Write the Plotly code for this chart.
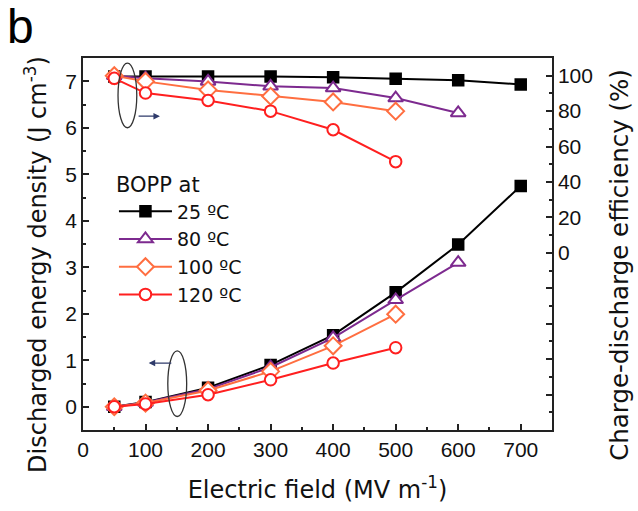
import plotly.graph_objects as go

# ---- data ----
field = [50, 100, 200, 300, 400, 500, 600, 700]
labels = ["25 ºC", "80 ºC", "100 ºC", "120 ºC"]
colors = ["#000000", "#7d2a8f", "#ff6e40", "#ff1f1f"]
symbols = ["square", "triangle-up", "diamond", "circle"]
fills = ["#000000", "white", "white", "white"]
sizes = [10.5, 13, 13, 11.5]

energy_25 = [0.0, 0.10, 0.41, 0.90, 1.54, 2.46, 3.49, 4.75]
energy_80 = [0.0, 0.09, 0.38, 0.85, 1.48, 2.30, 3.10]
energy_100 = [0.0, 0.08, 0.35, 0.76, 1.31, 1.99]
energy_120 = [0.0, 0.06, 0.26, 0.58, 0.94, 1.27]

eff_25 = [99.5, 99.6, 99.6, 99.6, 99.2, 98.3, 97.4, 95.1]
eff_80 = [100.0, 98.6, 96.8, 94.0, 93.0, 87.4, 79.0]
eff_100 = [100.0, 96.8, 92.0, 88.4, 85.2, 80.0]
eff_120 = [98.5, 90.2, 86.0, 80.0, 69.5, 51.5]

energy = [energy_25, energy_80, energy_100, energy_120]
eff = [eff_25, eff_80, eff_100, eff_120]

FONT = "Liberation Sans, Arial, sans-serif"
WIDE = "DejaVu Sans, sans-serif"

fig = go.Figure()
for i in range(4):
    fig.add_trace(go.Scatter(
        x=field[:len(eff[i])], y=eff[i], yaxis="y2", mode="lines+markers",
        line=dict(color=colors[i], width=2),
        marker=dict(symbol=symbols[i], size=sizes[i], color=fills[i],
                    line=dict(color=colors[i], width=2)),
        showlegend=False))
for i in range(4):
    fig.add_trace(go.Scatter(
        x=field[:len(energy[i])], y=energy[i], mode="lines+markers", name=labels[i],
        legendgroup=labels[i],
        line=dict(color=colors[i], width=2),
        marker=dict(symbol=symbols[i], size=sizes[i], color=fills[i],
                    line=dict(color=colors[i], width=2))))

# ellipses and arrows
fig.add_shape(type="circle", xref="x", yref="y", x0=56, x1=86, y0=6.0, y1=7.39,
              line=dict(color="#333333", width=1.3))
fig.add_shape(type="circle", xref="x", yref="y", x0=135.6, x1=165.8, y0=-0.21, y1=1.2,
              line=dict(color="#333333", width=1.3))
fig.add_annotation(x=123, y=6.25, ax=86.5, ay=6.25, xref="x", yref="y", axref="x", ayref="y",
                   showarrow=True, arrowhead=2, arrowsize=1, arrowwidth=1.3,
                   arrowcolor="#2f3b6b", text="")
fig.add_annotation(x=105, y=0.94, ax=143.6, ay=0.94, xref="x", yref="y", axref="x", ayref="y",
                   showarrow=True, arrowhead=2, arrowsize=1, arrowwidth=1.3,
                   arrowcolor="#2f3b6b", text="")

# panel letter
fig.add_annotation(text="b", xref="paper", yref="paper", x=-0.166, y=1.161,
                   xanchor="left", yanchor="top", showarrow=False,
                   font=dict(size=48, family=FONT, color="black"))

# y-axis titles (placed slightly below the axis centre, as in the reference)
fig.add_annotation(text="Discharged energy density (J cm<sup>-3</sup>)", xref="paper", yref="paper",
                   x=-0.100, y=0.444, xanchor="center", yanchor="middle", textangle=-90,
                   showarrow=False, font=dict(size=24, family=WIDE, color="#111111"))
fig.add_annotation(text="Charge-discharge efficiency (%)", xref="paper", yref="paper",
                   x=1.145, y=0.444, xanchor="center", yanchor="middle", textangle=-90,
                   showarrow=False, font=dict(size=24.5, family=WIDE, color="#111111"))

axis_common = dict(showline=True, linecolor="#222222", linewidth=1.5, ticks="inside",
                   ticklen=6, tickwidth=1.5, tickcolor="#222222", showgrid=False,
                   zeroline=False, tickfont=dict(size=21, family=FONT, color="#111111"))
minor_common = dict(ticks="inside", ticklen=3.5, tickwidth=1.5, tickcolor="#222222")

fig.update_layout(
    width=638, height=511,
    margin=dict(l=83, r=86, t=58, b=79),
    paper_bgcolor="white", plot_bgcolor="white",
    font=dict(family=FONT, color="#111111"),
    xaxis=dict(range=[0, 750], dtick=100, mirror=True,
               minor=dict(dtick=50, **minor_common),
               title=dict(text="Electric field (MV m<sup>-1</sup>)", font=dict(size=24, family=WIDE),
                          standoff=21),
               **axis_common),
    yaxis=dict(range=[-0.5, 7.5], dtick=1, tick0=0,
               minor=dict(dtick=0.5, **minor_common),
               **axis_common),
    yaxis2=dict(range=[-100, 110], overlaying="y", side="right",
                tickvals=[-100, -80, -60, -40, -20, 0, 20, 40, 60, 80, 100],
                ticktext=["", "", "", "", "", "0", "20", "40", "60", "80", "100"],
                minor=dict(dtick=10, **minor_common),
                **axis_common),
    legend=dict(x=0.066, y=0.712, xanchor="left", yanchor="top", bgcolor="rgba(0,0,0,0)",
                title=dict(text="BOPP at", font=dict(size=21, family=WIDE)),
                font=dict(size=19, family=WIDE), tracegroupgap=0, itemwidth=53),
)

fig.write_html("out.html")
